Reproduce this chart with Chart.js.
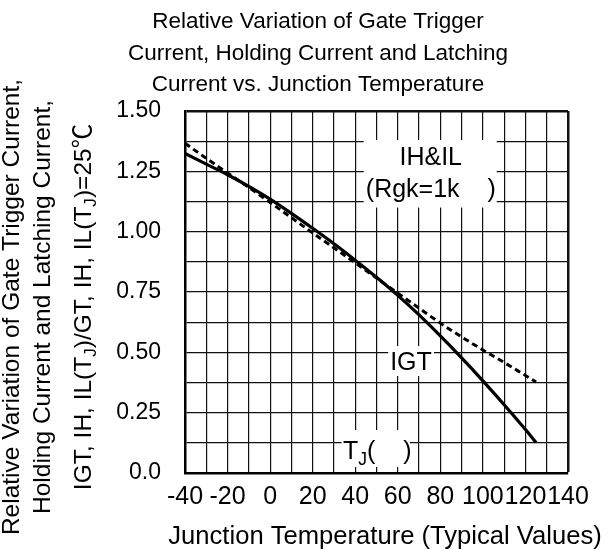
<!DOCTYPE html>
<html>
<head>
<meta charset="utf-8">
<script src="https://cdn.jsdelivr.net/npm/chart.js@4.4.0/dist/chart.umd.min.js"></script>
<style>
  body { margin: 0; background: #fff; }
  canvas { display: block; }
</style>
</head>
<body>
<canvas id="myChart" width="608" height="550"></canvas>
<script>
// values, normalised to 25°C
var temps = [-40, -30, -20, -10, 0, 10, 20, 30, 40, 50, 60, 70, 80, 90, 100, 110, 120, 125];
var igt   = [1.324, 1.280, 1.236, 1.188, 1.135, 1.076, 1.014, 0.950, 0.882, 0.811, 0.736, 0.655, 0.568, 0.477, 0.382, 0.283, 0.180, 0.126];
var ihil  = [1.366, 1.304, 1.243, 1.183, 1.121, 1.058, 0.995, 0.933, 0.871, 0.808, 0.745, 0.683, 0.621, 0.564, 0.510, 0.458, 0.404, 0.377];

var xTickLabels = ['-40', '-20', '0', '20', '40', '60', '80', '100', '120', '140'];
var yTickLabels = ['0.0', '0.25', '0.50', '0.75', '1.00', '1.25', '1.50'];

var titleLines = ['Relative Variation of Gate Trigger', 'Current, Holding Current and Latching', 'Current vs. Junction Temperature'];
var yTitleLines = [
  [{t: 'Relative Variation of Gate Trigger Current,'}],
  [{t: 'Holding Current and Latching Current,'}],
  [{t: 'IGT, IH, IL(T'}, {t: 'J', sub: true}, {t: ')/GT, IH, IL(T'}, {t: 'J', sub: true}, {t: ')=25℃'}]
];
var xTitle = 'Junction Temperature (Typical Values)';

var FONT = "'Liberation Sans', Arial, 'Noto Sans CJK SC', sans-serif";

// text labels inside the plot (box and anchor in data units)
var notes = [
  {box: [44, 106.5, 1.38, 1.10], align: 'center', lines: [
    {x: 75.5, y: 1.314, parts: [{t: 'IH&IL'}]},
    {x: 75.5, y: 1.181, parts: [{t: '(Rgk=1k    )'}]}]},
  {box: [55.5, 77, 0.526, 0.402], align: 'center', lines: [
    {x: 66.2, y: 0.464, parts: [{t: 'IGT'}]}]},
  {box: [33.6, 65.7, 0.178, 0.025], align: 'left', lines: [
    {x: 34.3, y: 0.095, parts: [{t: 'T'}, {t: 'J', sub: true}, {t: '(    )'}]}]}
];

function toPoints(xs, ys) {
  var pts = [];
  for (let i = 0; i < xs.length; i++) {
    pts.push({x: xs[i], y: ys[i]});
  }
  return pts;
}

// draws text made of parts, some of them subscript; baseline at y
function drawParts(ctx, parts, x, y, size, align) {
  var total = 0;
  for (let i = 0; i < parts.length; i++) {
    ctx.font = (parts[i].sub ? size * 0.7 : size) + 'px ' + FONT;
    parts[i].w = ctx.measureText(parts[i].t).width;
    total += parts[i].w;
  }
  var cx = align == 'center' ? x - total / 2 : x;
  ctx.textAlign = 'left';
  ctx.textBaseline = 'alphabetic';
  for (let i = 0; i < parts.length; i++) {
    ctx.font = (parts[i].sub ? size * 0.7 : size) + 'px ' + FONT;
    ctx.fillText(parts[i].t, cx, y + (parts[i].sub ? size * 0.22 : 0));
    cx += parts[i].w;
  }
}

var textPlugin = {
  id: 'texts',
  beforeDatasetsDraw: function (chart) {
    var ctx = chart.ctx;
    var xs = chart.scales.x, ys = chart.scales.y;
    ctx.save();
    for (let n = 0; n < notes.length; n++) {
      var b = notes[n].box;
      var x1 = xs.getPixelForValue(b[0]), x2 = xs.getPixelForValue(b[1]);
      var y1 = ys.getPixelForValue(b[2]), y2 = ys.getPixelForValue(b[3]);
      ctx.fillStyle = '#fff';
      ctx.fillRect(x1, y1, x2 - x1, y2 - y1);
      ctx.fillStyle = '#000';
      for (let l = 0; l < notes[n].lines.length; l++) {
        var ln = notes[n].lines[l];
        // y is the middle of the capitals
        drawParts(ctx, ln.parts, xs.getPixelForValue(ln.x), ys.getPixelForValue(ln.y) + 25 * 0.358, 25, notes[n].align);
      }
    }
    ctx.restore();
  },
  afterDraw: function (chart) {
    var ctx = chart.ctx;
    ctx.save();
    ctx.fillStyle = '#000';
    // chart title
    var tY = [22, 53.5, 84.5];
    ctx.font = '22.5px ' + FONT;
    ctx.textAlign = 'center';
    ctx.textBaseline = 'middle';
    for (let i = 0; i < titleLines.length; i++) {
      ctx.fillText(titleLines[i], 318, tY[i]);
    }
    // x title
    ctx.font = '25.6px ' + FONT;
    ctx.fillText(xTitle, 385, 537);
    // rotated y title
    var bx = [19, 50, 91];
    for (let i = 0; i < yTitleLines.length; i++) {
      ctx.save();
      ctx.translate(bx[i], 307);
      ctx.rotate(-Math.PI / 2);
      drawParts(ctx, yTitleLines[i], 0, 0, 24.5, 'center');
      ctx.restore();
    }
    ctx.restore();
  }
};

Chart.defaults.font.family = FONT;
Chart.defaults.color = '#000';

var myChart = new Chart('myChart', {
  type: 'line',
  data: {
    datasets: [{
      label: 'IGT',
      data: toPoints(temps, igt),
      borderColor: '#000',
      borderWidth: 3.2,
      pointRadius: 0,
      fill: false,
      tension: 0.4,
      cubicInterpolationMode: 'monotone'
    }, {
      label: 'IH&IL',
      data: toPoints(temps, ihil),
      borderColor: '#000',
      borderWidth: 3,
      borderDash: [6, 4],
      pointRadius: 0,
      fill: false,
      tension: 0.4,
      cubicInterpolationMode: 'monotone'
    }]
  },
  options: {
    responsive: false,
    animation: false,
    layout: {padding: {left: 0, top: 111, right: 40, bottom: 0}},
    plugins: {
      legend: {display: false},
      title: {display: false},
      tooltip: {enabled: false}
    },
    scales: {
      x: {
        type: 'linear',
        min: -40,
        max: 140,
        afterFit: function (scale) { scale.height = 77; },
        grid: {
          color: '#111',
          drawTicks: false,
          lineWidth: function (c) { return c.tick && c.tick.value === 140 ? 2.5 : 1.2; }
        },
        border: {color: '#000', width: 2.5},
        ticks: {
          stepSize: 10,
          autoSkip: false,
          maxRotation: 0,
          minRotation: 0,
          padding: 9,
          font: {size: 25},
          callback: function (value, index) {
            return index % 2 === 0 ? xTickLabels[index / 2] : '';
          }
        }
      },
      y: {
        min: 0,
        max: 1.5,
        afterFit: function (scale) { scale.width = 185; },
        grid: {
          color: '#111',
          drawTicks: false,
          lineWidth: function (c) { return c.tick && c.tick.value === 1.5 ? 2.5 : 1.2; }
        },
        border: {color: '#000', width: 2.5},
        ticks: {
          stepSize: 0.125,
          autoSkip: false,
          padding: 24,
          font: {size: 23},
          callback: function (value, index) {
            return index % 2 === 0 ? yTickLabels[index / 2] : '';
          }
        }
      }
    }
  },
  plugins: [textPlugin]
});
</script>
</body>
</html>
